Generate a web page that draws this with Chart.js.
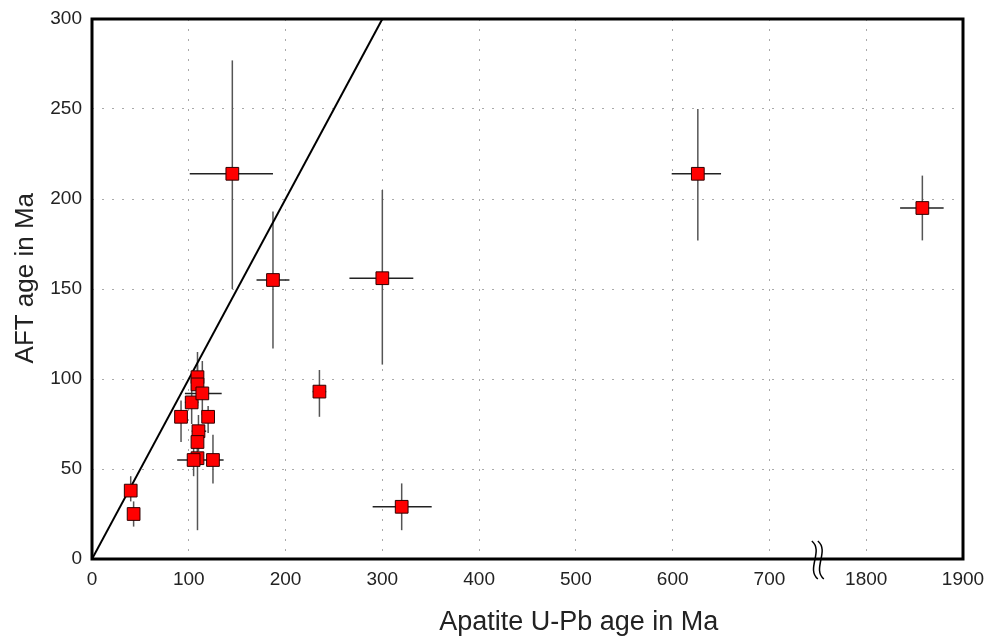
<!DOCTYPE html>
<html lang="en">
<head>
    <meta charset="UTF-8">
    <title>AFT vs Apatite U-Pb ages</title>
    <script src="https://cdn.jsdelivr.net/npm/chart.js@4.4.1/dist/chart.umd.min.js"></script>
    <style>
        html, body { margin: 0; padding: 0; background: #fff; }
        #wrap { width: 986px; height: 636px; }
    </style>
</head>
<body>
    <div id="wrap"><canvas id="chart" width="986" height="636"></canvas></div>
    <script>
        // apatite U-Pb ages (Ma) with error range
        const upbAge = [145, 187, 300, 235, 320, 626, 1858, 40, 43, 92, 103, 109, 109, 114, 120, 110, 109, 109, 105, 125];
        const upbLow = [101, 170, 266, 228, 290, 599, 1835, 40, 43, 92, 96, 109, 105, 96, 120, 103, 105, 109, 88, 118];
        const upbHigh = [187, 204, 332, 242, 351, 650, 1880, 40, 43, 92, 110, 109, 113, 134, 120, 118, 113, 109, 118, 136];
        // apatite fission track ages (Ma) with error range
        const aftAge = [214, 155, 156, 93, 29, 214, 195, 38, 25, 79, 87, 101, 97, 92, 79, 71, 65, 56, 55, 55];
        const aftLow = [150, 117, 108, 79, 16, 177, 177, 32, 18, 65, 75, 90, 85, 80, 70, 60, 55, 16, 46, 42];
        const aftHigh = [277, 193, 205, 105, 42, 250, 213, 46, 32, 88, 97, 115, 108, 110, 85, 80, 72, 62, 62, 69];
        // 1:1 reference line
        const oneToOne = [0, 300];
        const xTickLabels = [0, 100, 200, 300, 400, 500, 600, 700, 1800, 1900];
        const xTitle = 'Apatite U-Pb age in Ma';
        const yTitle = 'AFT age in Ma';

        // axis is broken between 700 and 1800
        const BREAK_AT = 750;
        const BREAK_GAP = 1000;
        function brk(v) { return v > BREAK_AT ? v - BREAK_GAP : v; }
        function unbrk(v) { return v > 700 ? v + BREAK_GAP : v; }

        const FONT = "'Liberation Sans', Arial, sans-serif";

        const errorBars = {
            id: 'errorBars',
            beforeDatasetsDraw(chart) {
                const { ctx, scales: { x, y } } = chart;
                ctx.save();
                ctx.lineWidth = 1.5;
                for (let i = 0; i < upbAge.length; i++) {
                    const px = x.getPixelForValue(brk(upbAge[i]));
                    const py = y.getPixelForValue(aftAge[i]);
                    ctx.strokeStyle = '#555';
                    ctx.beginPath();
                    ctx.moveTo(px, y.getPixelForValue(aftLow[i]));
                    ctx.lineTo(px, y.getPixelForValue(aftHigh[i]));
                    ctx.stroke();
                    ctx.strokeStyle = '#222';
                    ctx.beginPath();
                    ctx.moveTo(x.getPixelForValue(brk(upbLow[i])), py);
                    ctx.lineTo(x.getPixelForValue(brk(upbHigh[i])), py);
                    ctx.stroke();
                }
                ctx.restore();
            },
            afterDraw(chart) {
                const { ctx, chartArea: a, scales: { x, y } } = chart;
                ctx.save();
                // frame
                ctx.strokeStyle = '#000';
                ctx.lineWidth = 3;
                ctx.strokeRect(a.left, a.top, a.right - a.left, a.bottom - a.top);
                // axis break marks
                const bx = x.getPixelForValue(BREAK_AT);
                ctx.lineWidth = 1.5;
                [-3, 3].forEach(d => {
                    const cx = bx + d;
                    ctx.beginPath();
                    ctx.moveTo(cx - 3, a.bottom - 18);
                    ctx.bezierCurveTo(cx + 9, a.bottom - 8, cx - 9, a.bottom + 10, cx + 3, a.bottom + 20);
                    ctx.stroke();
                });
                // axis titles (the original sits off-centre)
                ctx.fillStyle = '#222';
                ctx.font = '27px ' + FONT;
                ctx.textAlign = 'center';
                ctx.textBaseline = 'alphabetic';
                ctx.fillText(xTitle, x.getPixelForValue(503), 630);
                ctx.translate(33, y.getPixelForValue(156));
                ctx.rotate(-Math.PI / 2);
                ctx.font = '26px ' + FONT;
                ctx.fillText(yTitle, 0, 0);
                ctx.restore();
            }
        };

        new Chart(document.getElementById('chart'), {
            type: 'scatter',
            data: {
                datasets: [{
                    label: 'Samples',
                    data: upbAge.map((v, i) => ({ x: brk(v), y: aftAge[i] })),
                    pointStyle: 'rect',
                    pointRadius: 9,
                    backgroundColor: '#ff0000',
                    borderColor: '#300000',
                    borderWidth: 1
                }, {
                    type: 'line',
                    label: '1:1',
                    data: oneToOne.map(v => ({ x: v, y: v })),
                    borderColor: '#000',
                    borderWidth: 2,
                    pointRadius: 0,
                    fill: false
                }]
            },
            options: {
                responsive: false,
                animation: false,
                layout: { padding: { left: 0, top: 19, right: 23, bottom: 0 } },
                plugins: {
                    legend: { display: false },
                    tooltip: { enabled: false }
                },
                scales: {
                    x: {
                        type: 'linear',
                        min: 0,
                        max: 900,
                        afterFit(scale) {
                            scale.height = 77;
                            scale.paddingLeft = 0;
                            scale.paddingRight = 0;
                        },
                        afterBuildTicks(scale) {
                            scale.ticks = xTickLabels.map(v => ({ value: brk(v) }));
                        },
                        ticks: {
                            padding: 9,
                            color: '#222',
                            font: { family: FONT, size: 19 },
                            callback: v => String(unbrk(v))
                        },
                        grid: { color: '#aaa', lineWidth: 1, drawTicks: false },
                        border: { display: false, dash: [2, 8] }
                    },
                    y: {
                        min: 0,
                        max: 300,
                        afterFit(scale) {
                            scale.width = 92;
                            scale.paddingTop = 0;
                            scale.paddingBottom = 0;
                        },
                        ticks: {
                            stepSize: 50,
                            padding: 10,
                            color: '#222',
                            font: { family: FONT, size: 19 }
                        },
                        grid: { color: '#aaa', lineWidth: 1, drawTicks: false },
                        border: { display: false, dash: [2, 8] }
                    }
                }
            },
            plugins: [errorBars]
        });
    </script>
</body>
</html>
